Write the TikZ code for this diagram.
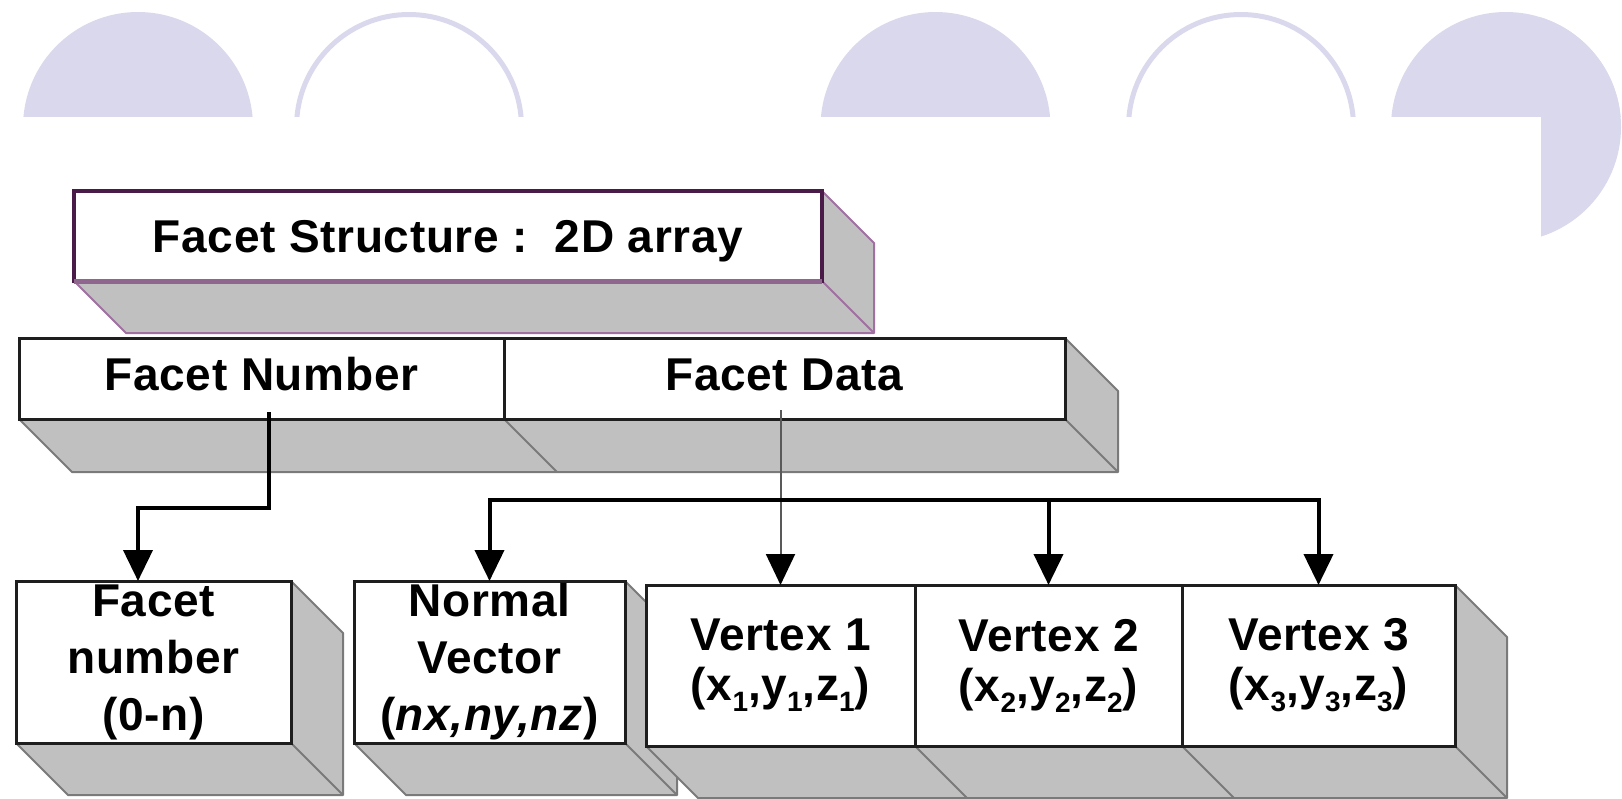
\documentclass[tikz,border=0pt]{standalone}
\usepackage{fontspec}
\setmainfont{Liberation Sans}[LetterSpace=1.5]
\usetikzlibrary{arrows.meta,calc}
\pgfdeclarelayer{background}
\pgfsetlayers{background,main}
\definecolor{deco}{HTML}{DAD8EC}
\definecolor{shgray}{HTML}{C0C0C0}
\definecolor{shedge}{HTML}{7A7A7A}
\definecolor{purpdark}{HTML}{4A1A48}
\definecolor{purpmid}{HTML}{8E668E}
\definecolor{purpedge}{HTML}{A070A0}
\definecolor{facedge}{HTML}{1E1E1E}
\newcommand\mysub[1]{\raisebox{-0.45ex}{\fontsize{14}{14}\selectfont #1}}
\newcommand\rowshadow[4]{%
  \fill[shgray] (#1.south west) -- ++(#3,#3) -- ($(#2.south east)+(#3,#3)$) -- ($(#2.north east)+(#3,#3)$) -- (#2.north east) -- (#2.south east) -- cycle;
  \draw[#4, line width=1pt, line join=round] (#1.south west) -- ++(#3,#3) -- ($(#2.south east)+(#3,#3)$) -- ($(#2.north east)+(#3,#3)$) -- (#2.north east);
  \draw[#4, line width=1pt] (#2.south east) -- ++(#3,#3);
}
\tikzset{
  face/.style={draw=facedge, line width=1.5pt, fill=white, outer sep=0pt, inner sep=0pt,
    font=\fontsize{23}{28.5}\selectfont\bfseries, align=center},
  vface/.style={face, font=\fontsize{23}{25}\selectfont\bfseries},
  conn/.style={line width=2pt, line cap=rect, -{Triangle[width=14.5pt,length=15.5pt]}},
  thinconn/.style={line width=1pt, draw=black!65, -{Triangle[width=14.5pt,length=15.5pt,color=black]}},
  ring/.style={draw=deco, line width=2.5pt},
  blob/.style={fill=deco}
}
\begin{document}
\begin{tikzpicture}[x=0.5pt,y=-0.5pt]
\useasboundingbox (0,0) rectangle (1622,798);

% front faces
\node[face, draw=purpdark, line width=1.8pt, fill=white, minimum width=374pt, minimum height=45pt,
      text height=17pt, text depth=1pt] (top) at (448,236) {Facet Structure :\ \ 2D array};
\draw[purpmid, line width=2.5pt] (top.south west) -- (top.south east);

\node[face, minimum width=242.5pt, minimum height=40.5pt, text height=17pt, text depth=5pt]
  (fn) at (261.5,378.5) {Facet Number};
\node[face, minimum width=280.5pt, minimum height=40.5pt, text height=17pt, text depth=5pt]
  (fd) at (784.5,378.5) {Facet Data};

\node[face, minimum width=137.5pt, minimum height=81pt] (fnb) at (153.5,662) {Facet\\number\\(0-n)};
\node[face, minimum width=135.5pt, minimum height=81pt] (nv) at (489.5,662) {Normal\\Vector\\(\textit{nx,ny,nz})};
\node[vface, minimum width=134.5pt, minimum height=80.5pt] (v1) at (780.5,665.5)
  {Vertex 1\\(x\mysub{1},y\mysub{1},z\mysub{1})};
\node[vface, minimum width=133.5pt, minimum height=80.5pt] (v2) at (1048.5,665.5)
  {Vertex 2\\(x\mysub{2},y\mysub{2},z\mysub{2})};
\node[vface, minimum width=136.5pt, minimum height=80.5pt] (v3) at (1318.5,665.5)
  {Vertex 3\\(x\mysub{3},y\mysub{3},z\mysub{3})};

\begin{pgfonlayer}{background}
  % decorative shapes
  \begin{scope}
    \clip (0,0) rectangle (1622,116);
    \fill[blob] (138,127) circle[radius=57.5pt];
    \draw[ring] (409,127) circle[radius=56.25pt];
    \fill[blob] (935.5,127) circle[radius=57.5pt];
    \draw[ring] (1241,127) circle[radius=56.25pt];
    \fill[blob] (1506,127) circle[radius=57.5pt];
  \end{scope}
  \begin{scope}
    \clip (1541,0) rectangle (1622,798);
    \fill[blob] (1506,127) circle[radius=57.5pt];
  \end{scope}
  % shadows
  \rowshadow{top}{top}{52}{purpedge}
  \rowshadow{fn}{fd}{53}{shedge}
  \draw[shedge, line width=1pt] (fd.south west) -- ++(53,53);
  \rowshadow{fnb}{fnb}{52}{shedge}
  \rowshadow{nv}{nv}{52}{shedge}
  \rowshadow{v1}{v3}{52}{shedge}
  \draw[shedge, line width=1pt] (v2.south west) -- ++(52,52);
  \draw[shedge, line width=1pt] (v3.south west) -- ++(52,52);
\end{pgfonlayer}

% connectors
\draw[conn] ($(fn.south)+(7.5,-5)$) -- ++(0,94) -| ($(fnb.north)+(-15.5,0)$);
\draw[thinconn] ($(fd.south -| v1.north)+(0,-9)$) -- (v1.north);
\draw[conn] ($(v3.north)+(0,-85)$) -| (nv.north);
\draw[conn] ($(v2.north)+(0,-85)$) -- (v2.north);
\draw[conn] ($(v3.north)+(0,-85)$) -- (v3.north);
\end{tikzpicture}
\end{document}
